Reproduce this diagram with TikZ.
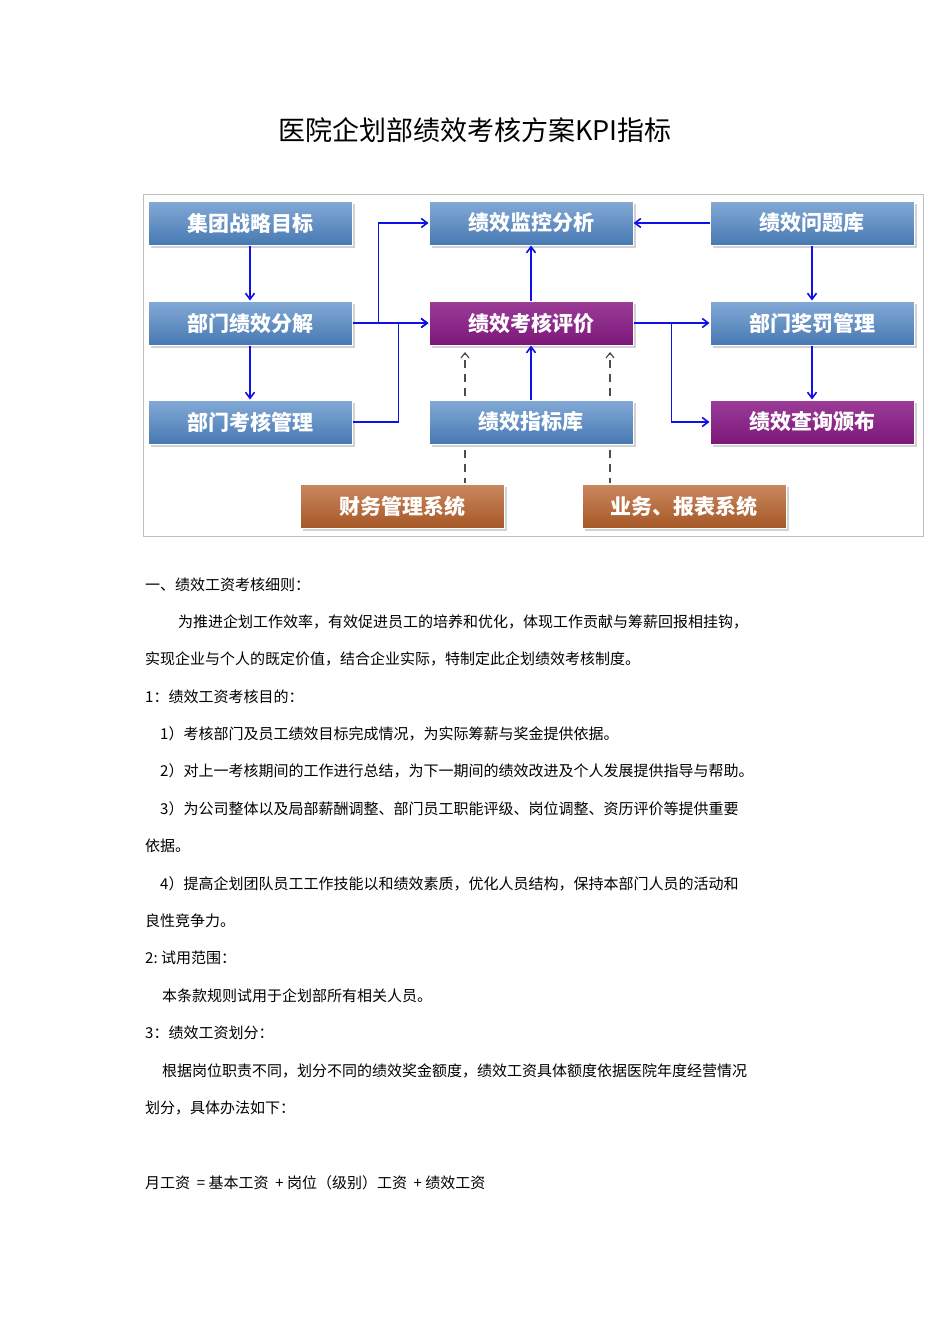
\documentclass[tikz,border=0pt]{standalone}
\usepackage{fontspec}
\setmainfont{Noto Sans CJK SC}
\usetikzlibrary{arrows.meta,shadows}
\definecolor{bbox}{HTML}{4F86C6}
\definecolor{pbox}{HTML}{8A1A86}
\definecolor{obox}{HTML}{B8612A}
\definecolor{conn}{HTML}{1010E8}
\tikzset{
 box/.style={draw=white,line width=1pt,minimum width=204pt,minimum height=44pt,text=white,font=\fontsize{21}{21}\selectfont\bfseries,drop shadow={shadow xshift=3pt,shadow yshift=-3pt,fill=gray!70}},
 blue box/.style={box,top color=bbox!70,bottom color=bbox!90!black},
 purple box/.style={box,top color=pbox!85,bottom color=pbox!90!black},
 orange box/.style={box,top color=obox!75,bottom color=obox!90!black},
 arr/.style={draw=conn,line width=1.6pt,-{Straight Barb[length=6pt,width=9pt]}},
 dsh/.style={draw=black!70,line width=1.2pt,dash pattern=on 8pt off 6pt},
 txt/.style={anchor=west,font=\fontsize{15}{15}\selectfont,inner sep=0pt},
}
\begin{document}
\begin{tikzpicture}[x=1pt,y=-1pt]
\useasboundingbox (0,0) rectangle (950,1344);
\node[font=\fontsize{27}{27}\selectfont] (title) at (475,130) {医院企划部绩效考核方案KPI指标};
\draw[black!25] (143,194) rectangle (923,536);
\node[blue box] (a1) at (250,223) {集团战略目标};
\node[blue box] (a2) at (250,323) {部门绩效分解};
\node[blue box] (a3) at (250,422) {部门考核管理};
\node[blue box] (b1) at (531,223) {绩效监控分析};
\node[purple box] (b2) at (531,323) {绩效考核评价};
\node[blue box] (b3) at (531,422) {绩效指标库};
\node[blue box] (c1) at (812,223) {绩效问题库};
\node[blue box] (c2) at (812,323) {部门奖罚管理};
\node[purple box] (c3) at (812,422) {绩效查询颁布};
\node[orange box] (d1) at (402,506) {财务管理系统};
\node[orange box] (d2) at (684,506) {业务、报表系统};
\draw[arr] (a1) -- (a2);
\draw[arr] (a2) -- (a3);
\draw[arr] (c1) -- (c2);
\draw[arr] (c2) -- (c3);
\draw[arr] (c1) -- (b1);
\draw[arr] (b2) -- (b1);
\draw[arr] (b3) -- (b2);
\draw[arr] (a2) -- (b2);
\draw[arr] (a2.east) -- ++(26,0) |- (b1.west);
\draw[arr] (a3.east) -- ++(46,0) |- (b2.west);
\draw[arr] (b2) -- (c2);
\draw[arr] (b2.east) -- ++(38,0) |- (c3.west);
\coordinate (p1) at (465,396); \coordinate (q1) at (465,352);
\coordinate (p2) at (610,396); \coordinate (q2) at (610,352);
\coordinate (r1) at (465,450); \coordinate (s1) at (465,483);
\coordinate (r2) at (610,450); \coordinate (s2) at (610,483);
\draw[dsh,-{Straight Barb[length=5pt,width=8pt]}] (p1) -- (q1);
\draw[dsh,-{Straight Barb[length=5pt,width=8pt]}] (p2) -- (q2);
\draw[dsh] (r1) -- (s1);
\draw[dsh] (r2) -- (s2);
\node[txt] (t1) at (145,585) {一、绩效工资考核细则：};
\node[txt] (t2) at (178,622) {为推进企划工作效率，有效促进员工的培养和优化，体现工作贡献与筹薪回报相挂钩，};
\node[txt] (t3) at (145,659) {实现企业与个人的既定价值，结合企业实际，特制定此企划绩效考核制度。};
\node[txt] (t4) at (145,697) {1：绩效工资考核目的：};
\node[txt] (t5) at (160,734) {1）考核部门及员工绩效目标完成情况，为实际筹薪与奖金提供依据。};
\node[txt] (t6) at (160,771) {2）对上一考核期间的工作进行总结，为下一期间的绩效改进及个人发展提供指导与帮助。};
\node[txt] (t7) at (160,809) {3）为公司整体以及局部薪酬调整、部门员工职能评级、岗位调整、资历评价等提供重要};
\node[txt] (t8) at (145,846) {依据。};
\node[txt] (t9) at (160,884) {4）提高企划团队员工工作技能以和绩效素质，优化人员结构，保持本部门人员的活动和};
\node[txt] (t10) at (145,921) {良性竞争力。};
\node[txt] (t11) at (145,958) {2:\ 试用范围：};
\node[txt] (t12) at (162,996) {本条款规则试用于企划部所有相关人员。};
\node[txt] (t13) at (145,1033) {3：绩效工资划分：};
\node[txt] (t14) at (162,1071) {根据岗位职责不同，划分不同的绩效奖金额度，绩效工资具体额度依据医院年度经营情况};
\node[txt] (t15) at (145,1108) {划分，具体办法如下：};
\node[txt] (t16) at (145,1183) {月工资\ \ =\ 基本工资\ \ +\ 岗位（级别）工资\ \ +\ 绩效工资};
\end{tikzpicture}
\end{document}
